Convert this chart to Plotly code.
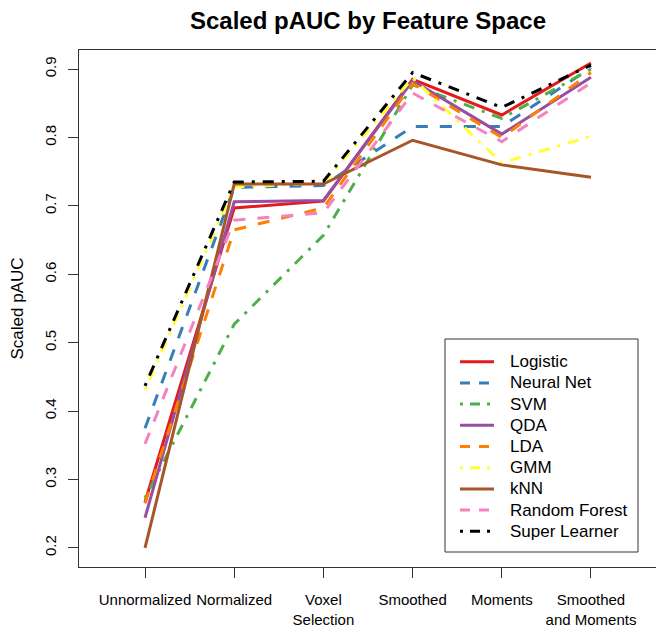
import plotly.graph_objects as go

categories = ["Unnormalized", "Normalized", "Voxel<br>Selection", "Smoothed", "Moments", "Smoothed<br>and Moments"]
x_pos = [1, 2, 3, 4, 5, 6]

logistic      = [0.267, 0.697, 0.707, 0.885, 0.833, 0.909]
neural_net    = [0.375, 0.727, 0.730, 0.816, 0.816, 0.902]
svm           = [0.273, 0.527, 0.657, 0.877, 0.828, 0.900]
qda           = [0.244, 0.706, 0.708, 0.883, 0.805, 0.888]
lda           = [0.265, 0.665, 0.697, 0.879, 0.800, 0.895]
gmm           = [0.431, 0.728, 0.733, 0.887, 0.763, 0.802]
knn           = [0.200, 0.732, 0.732, 0.796, 0.760, 0.742]
random_forest = [0.352, 0.679, 0.690, 0.865, 0.794, 0.880]
super_learner = [0.437, 0.735, 0.736, 0.895, 0.844, 0.906]

series_names = ["Logistic", "Neural Net", "SVM", "QDA", "LDA", "GMM", "kNN", "Random Forest", "Super Learner"]
series_values = [logistic, neural_net, svm, qda, lda, gmm, knn, random_forest, super_learner]
colors = ["#E41A1C", "#377EB8", "#4DAF4A", "#984EA3", "#FF7F00", "#FFFF33", "#A65628", "#F781BF", "#000000"]
DASH = "12px,12px"
DOTDASH = "3px,8px,11px,8px"
dashes = ["solid", DASH, DOTDASH, "solid", DASH, DOTDASH, "solid", DASH, DOTDASH]
legend_dashes = ["solid", "10px,9px", "3px,7px,10px,7px", "solid", "10px,9px",
                 "3px,7px,10px,7px", "solid", "10px,9px", "3px,7px,10px,7px"]

FONT = "Liberation Sans, Arial, Helvetica, sans-serif"

# page has an 8px body margin: figure is drawn from (8,8)
OFF = 8
W, H = 664 - OFF, 631 - OFF
L, R, T, B = 79 - OFF, 657 - OFF, 50 - OFF, 567 - OFF
pw, ph = R - L, B - T

def px2x(px):
    return (px - OFF - L) / pw

def px2y(py):
    return (B - (py - OFF)) / ph

fig = go.Figure()
for name, vals, col, d in zip(series_names, series_values, colors, dashes):
    fig.add_trace(go.Scatter(x=x_pos, y=vals, mode="lines", name=name,
                             line=dict(color=col, width=3, dash=d)))

fig.update_layout(
    width=W, height=H,
    margin=dict(l=L, r=W - R, t=T, b=H - B, autoexpand=False),
    paper_bgcolor="white", plot_bgcolor="white",
    font=dict(family=FONT, color="black"),
    showlegend=False,
    title=dict(text="<b>Scaled pAUC by Feature Space</b>", x=0.5, xref="paper",
               y=1 - (21 - OFF) / H, yref="container", yanchor="middle", xanchor="center",
               font=dict(size=24, color="black", family=FONT)),
)

# legend box (drawn manually to match the reference spacing)
fig.add_shape(type="rect", xref="paper", yref="paper",
              x0=px2x(445), x1=px2x(638), y0=px2y(552), y1=px2y(339),
              line=dict(color="#333333", width=1), fillcolor="white", layer="below")
top_item, step = 361.7, 21.2
for i, (name, col, d) in enumerate(zip(series_names, colors, legend_dashes)):
    yy = px2y(top_item + i * step)
    fig.add_shape(type="line", xref="paper", yref="paper",
                  x0=px2x(460), x1=px2x(494), y0=yy, y1=yy,
                  line=dict(color=col, width=3, dash=d))
    fig.add_annotation(text=name, xref="paper", yref="paper", x=px2x(508), y=yy,
                       xanchor="left", yanchor="middle", showarrow=False,
                       font=dict(size=17, color="black", family=FONT))

fig.update_xaxes(range=[0.26, 6.74], tickvals=x_pos, ticktext=categories,
                 ticks="outside", ticklen=10, tickcolor="#333333", tickwidth=1,
                 showline=True, mirror=True, linecolor="#333333", linewidth=1,
                 showgrid=False, zeroline=False, tickangle=0, automargin=False,
                 tickfont=dict(size=15, color="black", family=FONT),
                 ticklabelstandoff=9)
fig.update_yaxes(range=[0.172, 0.928], tickvals=[0.2, 0.3, 0.4, 0.5, 0.6, 0.7, 0.8, 0.9],
                 ticktext=["0.2", "0.3", "0.4", "0.5", "0.6", "0.7", "0.8", "0.9"],
                 ticks="outside", ticklen=10, tickcolor="#333333", tickwidth=1,
                 showline=True, mirror=True, linecolor="#333333", linewidth=1,
                 showgrid=False, zeroline=False, tickangle=-90, automargin=False,
                 tickfont=dict(size=15, color="black", family=FONT),
                 ticklabelstandoff=6)

fig.add_annotation(text="Scaled pAUC", xref="paper", yref="paper",
                   x=px2x(17), y=0.5, xanchor="center", yanchor="middle",
                   textangle=-90, showarrow=False,
                   font=dict(size=17, color="black", family=FONT))

fig.write_html("out.html")
